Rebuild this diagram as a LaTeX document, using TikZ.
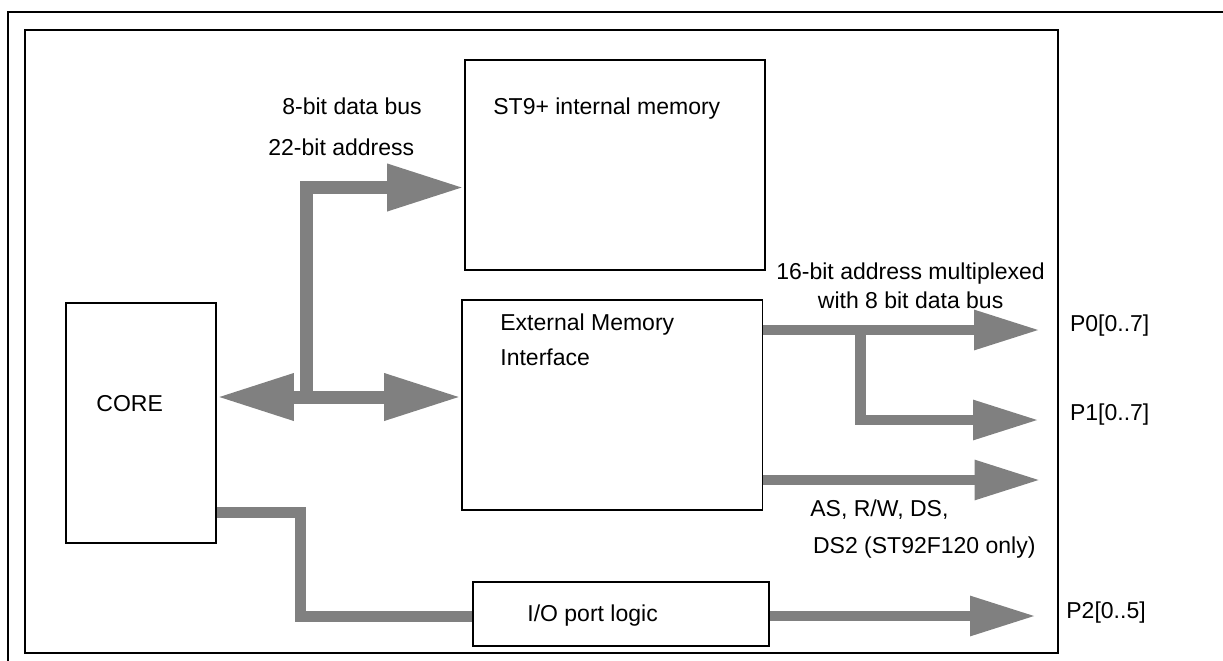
\documentclass[tikz,border=0pt]{standalone}
\usepackage{fontspec}
\setmainfont{Liberation Sans}
\usetikzlibrary{arrows.meta}
\definecolor{busgray}{RGB}{128,128,128}
\begin{document}
\begin{tikzpicture}[x=0.5pt,y=-0.5pt,
  box/.style={draw=black, line width=0.9pt, rectangle, inner sep=0pt},
  txt/.style={inner sep=0pt, font=\fontsize{11.5}{14}\selectfont, anchor=base west},
  busA/.style={draw=busgray, line width=6.5pt, line cap=butt, line join=miter},
  busB/.style={draw=busgray, line width=5.35pt, line cap=butt, line join=miter},
  toA/.style={-{Triangle[length=38.5pt,width=22pt]}},
  bothA/.style={{Triangle[length=38.5pt,width=22pt]}-{Triangle[length=38.5pt,width=22pt]}},
  toB/.style={-{Triangle[length=33pt,width=18.75pt]}},
]
\useasboundingbox (0,0) rectangle (1223,660);
% outer frame
\draw[line width=0.9pt] (8,662) -- (8,12) -- (1225,12);
% boxes
\node[box, minimum width=516.5pt, minimum height=311.5pt] (chip) at (541.5,341.5) {};
\node[box, minimum width=150pt, minimum height=105pt] (mem) at (615,165) {};
\node[box, minimum width=150.25pt, minimum height=105pt] (emi) at (612.25,405) {};
\node[box, minimum width=75pt, minimum height=120pt] (core) at (141,423) {};
\node[box, minimum width=148pt, minimum height=32pt] (io) at (621,614) {};
% helper coordinates
\coordinate (yb) at (0,397);
\coordinate (ymem) at (0,187.5);
\coordinate (yP0) at (0,330);
\coordinate (yAS) at (0,480);
\coordinate (yc) at (0,512.5);
\coordinate (yio) at (0,616.5);
\coordinate (yp2) at (0,616);
\coordinate (jn) at (306,397);
\coordinate (br) at (860.5,330);
\coordinate (bend) at (300.5,512.5);
\coordinate (p0e) at (1040,330);
\coordinate (p1e) at (1039,420);
\coordinate (ase) at (1040.5,480);
\coordinate (p2e) at (1036,616);
% buses
\draw[busA, bothA] (core.east |- yb) -- (emi.west |- yb);
\draw[busA, toA] (jn) |- (mem.west |- ymem);
\draw[busB, toB] (emi.east |- yP0) -- (p0e);
\draw[busB, toB] (br) |- (p1e);
\draw[busB, toB] (emi.east |- yAS) -- (ase);
\draw[busB] (core.east |- yc) -- (bend) |- (io.west |- yio);
\draw[busB, toB] (io.east |- yp2) -- (p2e);
% texts
\node[txt] (t8) at (282,114) {8-bit data bus};
\node[txt] (t22) at (268,155) {22-bit address};
\node[txt] (tmem) at (493,114) {ST9+ internal memory};
\node[txt] (temi1) at (500,330) {External Memory};
\node[txt] (temi2) at (500,365) {Interface};
\node[txt] (tcore) at (96,411.7) {CORE};
\node[txt] (tio) at (527,621) {I/O port logic};
\node[txt, anchor=base] (t16a) at (910.6,279.3) {16-bit address multiplexed};
\node[txt, anchor=base] (t16b) at (910.6,308.3) {with 8 bit data bus};
\node[txt] (tas1) at (810,516) {AS, R/W, DS,};
\node[txt] (tas2) at (812.7,553.3) {DS2 (ST92F120 only)};
\node[txt] (tp0) at (1069.7,331) {P0[0..7]};
\node[txt] (tp1) at (1069.7,420) {P1[0..7]};
\node[txt] (tp2) at (1066,618.3) {P2[0..5]};
\end{tikzpicture}
\end{document}
